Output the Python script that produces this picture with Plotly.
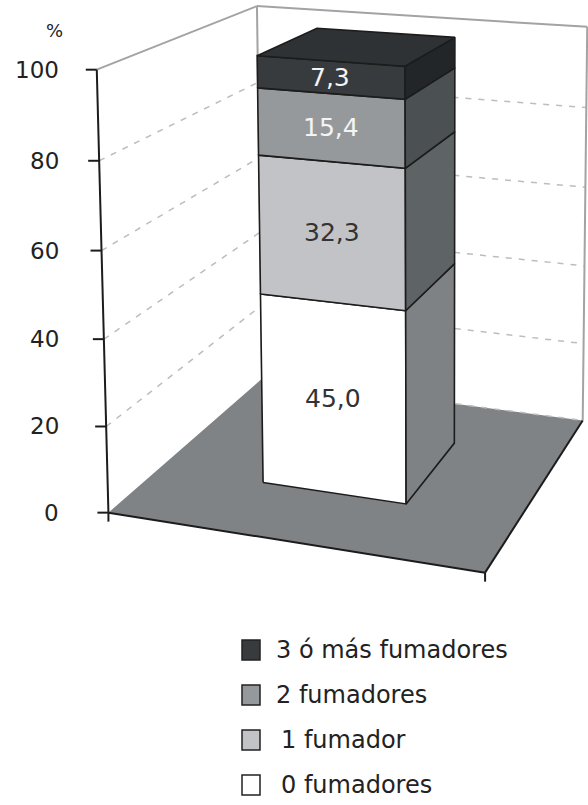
import numpy as np
import plotly.graph_objects as go

# ---- data -------------------------------------------------------------
series_names = ["0 fumadores", "1 fumador", "2 fumadores", "3 ó más fumadores"]
series_values = [45.0, 32.3, 15.4, 7.3]
tick_values = [0, 20, 40, 60, 80, 100]
tick_labels = ["0", "20", "40", "60", "80", "100"]
axis_title = "%"

# ---- styles -----------------------------------------------------------
front_colors = ["#ffffff", "#c1c3c6", "#96999c", "#383b3e"]
side_colors = ["#7e8285", "#5e6366", "#4b5053", "#232629"]
top_color = "#2f3235"
label_colors = ["#333333", "#333333", "#f4f4f4", "#f4f4f4"]
floor_color = "#7f8386"
edge_color = "#1c1c1c"
wall_edge = "#a3a3a3"
grid_color = "#bdbdbd"
FONT = "DejaVu Sans"
W, H = 588, 805

# ---- perspective camera ----------------------------------------------
# World space: X across the category slot (0..1), Y depth (0 front .. 1 back),
# Z value axis scaled so that 1 == 100 %.  The camera is fitted from the
# corners of the plot box (and the value-axis ticks) in page pixels.
frame_world = np.array([
    (0, 0, 0), (0, 0, 1), (1, 0, 0), (1, 1, 0), (1, 1, 1), (0, 1, 1), (0, 1, 0),
    (0, 0, 0.2), (0, 0, 0.4), (0, 0, 0.6), (0, 0, 0.8),
], float)
frame_px = np.array([
    (108, 512), (97, 69), (485, 573), (583, 420), (587, 27), (257, 6), (262, 379),
    (106, 426), (105, 340), (101, 251), (99, 161),
], float)


def fit_camera(world, px):
    c = px.mean(axis=0)
    s = np.sqrt(2) / np.mean(np.linalg.norm(px - c, axis=1))
    T = np.array([[s, 0, -s * c[0]], [0, s, -s * c[1]], [0, 0, 1]])
    pn = (px - c) * s
    rows = []
    for (X, Y, Z), (u, v) in zip(world, pn):
        rows.append([X, Y, Z, 1, 0, 0, 0, 0, -u * X, -u * Y, -u * Z, -u])
        rows.append([0, 0, 0, 0, X, Y, Z, 1, -v * X, -v * Y, -v * Z, -v])
    _, _, vt = np.linalg.svd(np.array(rows))
    Pn = vt[-1].reshape(3, 4)
    return np.linalg.inv(T) @ Pn


CAM = fit_camera(frame_world, frame_px)


def proj(X, Y, Z):
    p = CAM @ np.array([X, Y, Z, 1.0])
    return p[0] / p[2], p[1] / p[2]


def poly(points):
    pts = [proj(*p) for p in points]
    pts.append(pts[0])
    return [p[0] for p in pts], [p[1] for p in pts]


def seg(a, b):
    pa, pb = proj(*a), proj(*b)
    return [pa[0], pb[0]], [pa[1], pb[1]]


fig = go.Figure()


def add_face(points, fill, line_color=None, line_width=0):
    xs, ys = poly(points)
    fig.add_trace(go.Scatter(
        x=xs, y=ys, mode="lines", fill="toself", fillcolor=fill,
        line=dict(color=line_color or fill, width=line_width),
        hoverinfo="skip", showlegend=False))


def add_line(a, b, color, width, dash=None):
    xs, ys = seg(a, b)
    fig.add_trace(go.Scatter(
        x=xs, y=ys, mode="lines",
        line=dict(color=color, width=width, dash=dash),
        hoverinfo="skip", showlegend=False))


zmax = tick_values[-1]

# walls
add_face([(0, 0, 0), (0, 1, 0), (0, 1, 1), (0, 0, 1)], "#ffffff")
add_face([(0, 1, 0), (1, 1, 0), (1, 1, 1), (0, 1, 1)], "#ffffff")

# floor
add_face([(0, 0, 0), (1, 0, 0), (1, 1, 0), (0, 1, 0)], floor_color)

# dashed gridlines on the walls
for t in tick_values[:-1]:
    z = t / zmax
    if t > 0:
        add_line((0, 0, z), (0, 1, z), grid_color, 1.5, "6px,7px")
    add_line((0, 1, z), (1, 1, z), grid_color, 1.5, "6px,7px")

# wall outlines
add_line((0, 0, 1), (0, 1, 1), wall_edge, 2)
add_line((0, 1, 1), (1, 1, 1), wall_edge, 2)
add_line((0, 1, 0), (0, 1, 1), wall_edge, 2)
add_line((1, 1, 0), (1, 1, 1), wall_edge, 2)

# floor front / right edges and value axis
add_line((0, 0, 0), (1, 0, 0), edge_color, 2)
add_line((1, 0, 0), (1, 1, 0), edge_color, 2)
add_line((0, 0, 0), (0, 0, 1), edge_color, 2)

# value-axis ticks and labels
for t, lab in zip(tick_values, tick_labels):
    px, py = proj(0, 0, t / zmax)
    fig.add_trace(go.Scatter(x=[px - 11, px], y=[py, py], mode="lines",
                             line=dict(color=edge_color, width=2),
                             hoverinfo="skip", showlegend=False))
    fig.add_annotation(x=61, y=py, text=lab, showarrow=False, xanchor="right",
                       yanchor="middle", font=dict(family=FONT, size=23, color="#222222"))

px, py = proj(0, 0, 1)
fig.add_annotation(x=54, y=py - 39, text=axis_title, showarrow=False,
                   font=dict(family=FONT, size=18, color="#222222"))

# category-axis ticks
for X in (0, 1):
    px, py = proj(X, 0, 0)
    fig.add_trace(go.Scatter(x=[px, px], y=[py, py + 9], mode="lines",
                             line=dict(color=edge_color, width=2),
                             hoverinfo="skip", showlegend=False))

# stacked 3D column
x0, x1 = 0.3, 0.7
y0, y1 = 0.3, 0.72
base = 0.0
for i, v in enumerate(series_values):
    z0, z1 = base / zmax, (base + v) / zmax
    add_face([(x0, y0, z0), (x1, y0, z0), (x1, y0, z1), (x0, y0, z1)],
             front_colors[i], edge_color, 1.6)
    add_face([(x1, y0, z0), (x1, y1, z0), (x1, y1, z1), (x1, y0, z1)],
             side_colors[i], edge_color, 1.6)
    lx, ly = proj((x0 + x1) / 2, y0, (z0 + z1) / 2)
    fig.add_annotation(x=lx, y=ly, text=f"{v:.1f}".replace(".", ","),
                       showarrow=False, xanchor="center", yanchor="middle",
                       font=dict(family=FONT, size=25, color=label_colors[i]))
    base += v
ztop = base / zmax
add_face([(x0, y0, ztop), (x1, y0, ztop), (x1, y1, ztop), (x0, y1, ztop)],
         top_color, edge_color, 1.6)

# legend (top entry is the last series)
legend_x, legend_y0, legend_dy = 251, 650, 45
for k, i in enumerate(reversed(range(len(series_names)))):
    cy = legend_y0 + k * legend_dy
    fig.add_shape(type="rect", xref="x", yref="y",
                  x0=legend_x - 9, x1=legend_x + 9, y0=cy - 10, y1=cy + 10,
                  fillcolor=front_colors[i], line=dict(color="#222222", width=1.5))
    fig.add_annotation(x=legend_x + 23 + (5 if i < 2 else 0), y=cy,
                       text=series_names[i], showarrow=False,
                       xanchor="left", yanchor="middle",
                       font=dict(family=FONT, size=24, color="#222222"))

fig.update_xaxes(range=[0, W], visible=False, fixedrange=True)
fig.update_yaxes(range=[H, 0], visible=False, fixedrange=True)
fig.update_layout(width=W, height=H, margin=dict(l=0, r=0, t=0, b=0),
                  paper_bgcolor="white", plot_bgcolor="white",
                  showlegend=False, hovermode=False)

fig.write_html("out.html")
